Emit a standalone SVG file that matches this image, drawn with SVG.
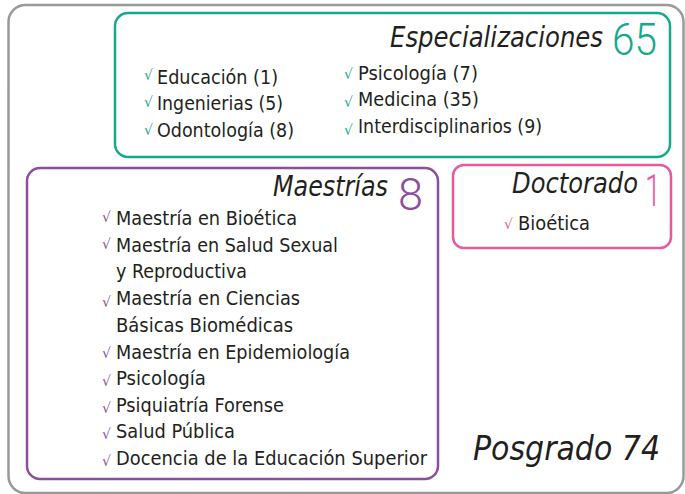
<svg xmlns="http://www.w3.org/2000/svg" width="685" height="494" viewBox="0 0 685 494">
<style>
.t{font-family:"Liberation Sans Narrow","DejaVu Sans Condensed",sans-serif;fill:#231f20}
.item{font-size:20px}
.title{font-size:29px;font-style:italic}
.num{font-family:Roboto,"DejaVu Sans",sans-serif;font-weight:300;font-size:45px}
.ck{font-family:"DejaVu Sans","Liberation Sans",sans-serif;font-size:14px}
.teal{fill:#17a98c}
.purple{fill:#8b4f9e}
.pink{fill:#e85a9c}
</style>
<rect width="685" height="494" fill="#ffffff"/>
<g id="posgrado">
<rect x="8.5" y="5" width="675" height="488" rx="17" fill="none" stroke="#999999" stroke-width="2.5"/>
<text class="t" x="473" y="460" font-size="33" font-style="italic" textLength="187" lengthAdjust="spacingAndGlyphs">Posgrado 74</text>
</g>
<g id="especializaciones">
<rect x="115" y="13" width="555" height="144" rx="13" fill="none" stroke="#17a98c" stroke-width="2.5"/>
<text class="t title" x="390" y="47" textLength="213" lengthAdjust="spacingAndGlyphs">Especializaciones</text>
<text class="num teal" x="612" y="55" textLength="45" lengthAdjust="spacingAndGlyphs">65</text>
<text class="ck teal" x="144" y="80">√</text><text class="t item" x="157" y="84" textLength="121" lengthAdjust="spacingAndGlyphs">Educación (1)</text>
<text class="ck teal" x="144" y="107">√</text><text class="t item" x="157" y="110" textLength="126" lengthAdjust="spacingAndGlyphs">Ingenierias (5)</text>
<text class="ck teal" x="144" y="135">√</text><text class="t item" x="157" y="137" textLength="137" lengthAdjust="spacingAndGlyphs">Odontología (8)</text>
<text class="ck teal" x="344" y="79">√</text><text class="t item" x="358" y="80" textLength="120" lengthAdjust="spacingAndGlyphs">Psicología (7)</text>
<text class="ck teal" x="344" y="107">√</text><text class="t item" x="358" y="106" textLength="121" lengthAdjust="spacingAndGlyphs">Medicina (35)</text>
<text class="ck teal" x="344" y="135">√</text><text class="t item" x="358" y="133" textLength="184" lengthAdjust="spacingAndGlyphs">Interdisciplinarios (9)</text>
</g>
<g id="maestrias">
<rect x="27" y="168" width="411" height="311" rx="13" fill="none" stroke="#8b4f9e" stroke-width="2.5"/>
<text class="t title" x="273" y="196" textLength="115" lengthAdjust="spacingAndGlyphs">Maestrías</text>
<text class="num purple" x="398" y="210" textLength="25" lengthAdjust="spacingAndGlyphs">8</text>
<text class="ck purple" x="102" y="222">√</text><text class="t item" x="116" y="225" textLength="181" lengthAdjust="spacingAndGlyphs">Maestría en Bioética</text>
<text class="ck purple" x="102" y="249">√</text><text class="t item" x="116" y="252" textLength="222" lengthAdjust="spacingAndGlyphs">Maestría en Salud Sexual</text>
<text class="t item" x="116" y="278" textLength="131" lengthAdjust="spacingAndGlyphs">y Reproductiva</text>
<text class="ck purple" x="102" y="307">√</text><text class="t item" x="116" y="305" textLength="184" lengthAdjust="spacingAndGlyphs">Maestría en Ciencias</text>
<text class="t item" x="116" y="332" textLength="177" lengthAdjust="spacingAndGlyphs">Básicas Biomédicas</text>
<text class="ck purple" x="102" y="358">√</text><text class="t item" x="116" y="359" textLength="234" lengthAdjust="spacingAndGlyphs">Maestría en Epidemiología</text>
<text class="ck purple" x="102" y="386">√</text><text class="t item" x="116" y="385" textLength="90" lengthAdjust="spacingAndGlyphs">Psicología</text>
<text class="ck purple" x="102" y="413">√</text><text class="t item" x="116" y="412" textLength="168" lengthAdjust="spacingAndGlyphs">Psiquiatría Forense</text>
<text class="ck purple" x="102" y="439">√</text><text class="t item" x="116" y="438" textLength="119" lengthAdjust="spacingAndGlyphs">Salud Pública</text>
<text class="ck purple" x="102" y="466">√</text><text class="t item" x="116" y="465" textLength="311" lengthAdjust="spacingAndGlyphs">Docencia de la Educación Superior</text>
</g>
<g id="doctorado">
<rect x="453" y="165" width="218" height="83" rx="11" fill="none" stroke="#e85a9c" stroke-width="2.5"/>
<text class="t title" x="512" y="193" textLength="126" lengthAdjust="spacingAndGlyphs">Doctorado</text>
<text class="num pink" x="645" y="206" textLength="16" lengthAdjust="spacingAndGlyphs">1</text>
<text class="ck pink" x="504" y="229">√</text><text class="t item" x="518" y="230" textLength="72" lengthAdjust="spacingAndGlyphs">Bioética</text>
</g>
<g id="connectors"></g>
</svg>
